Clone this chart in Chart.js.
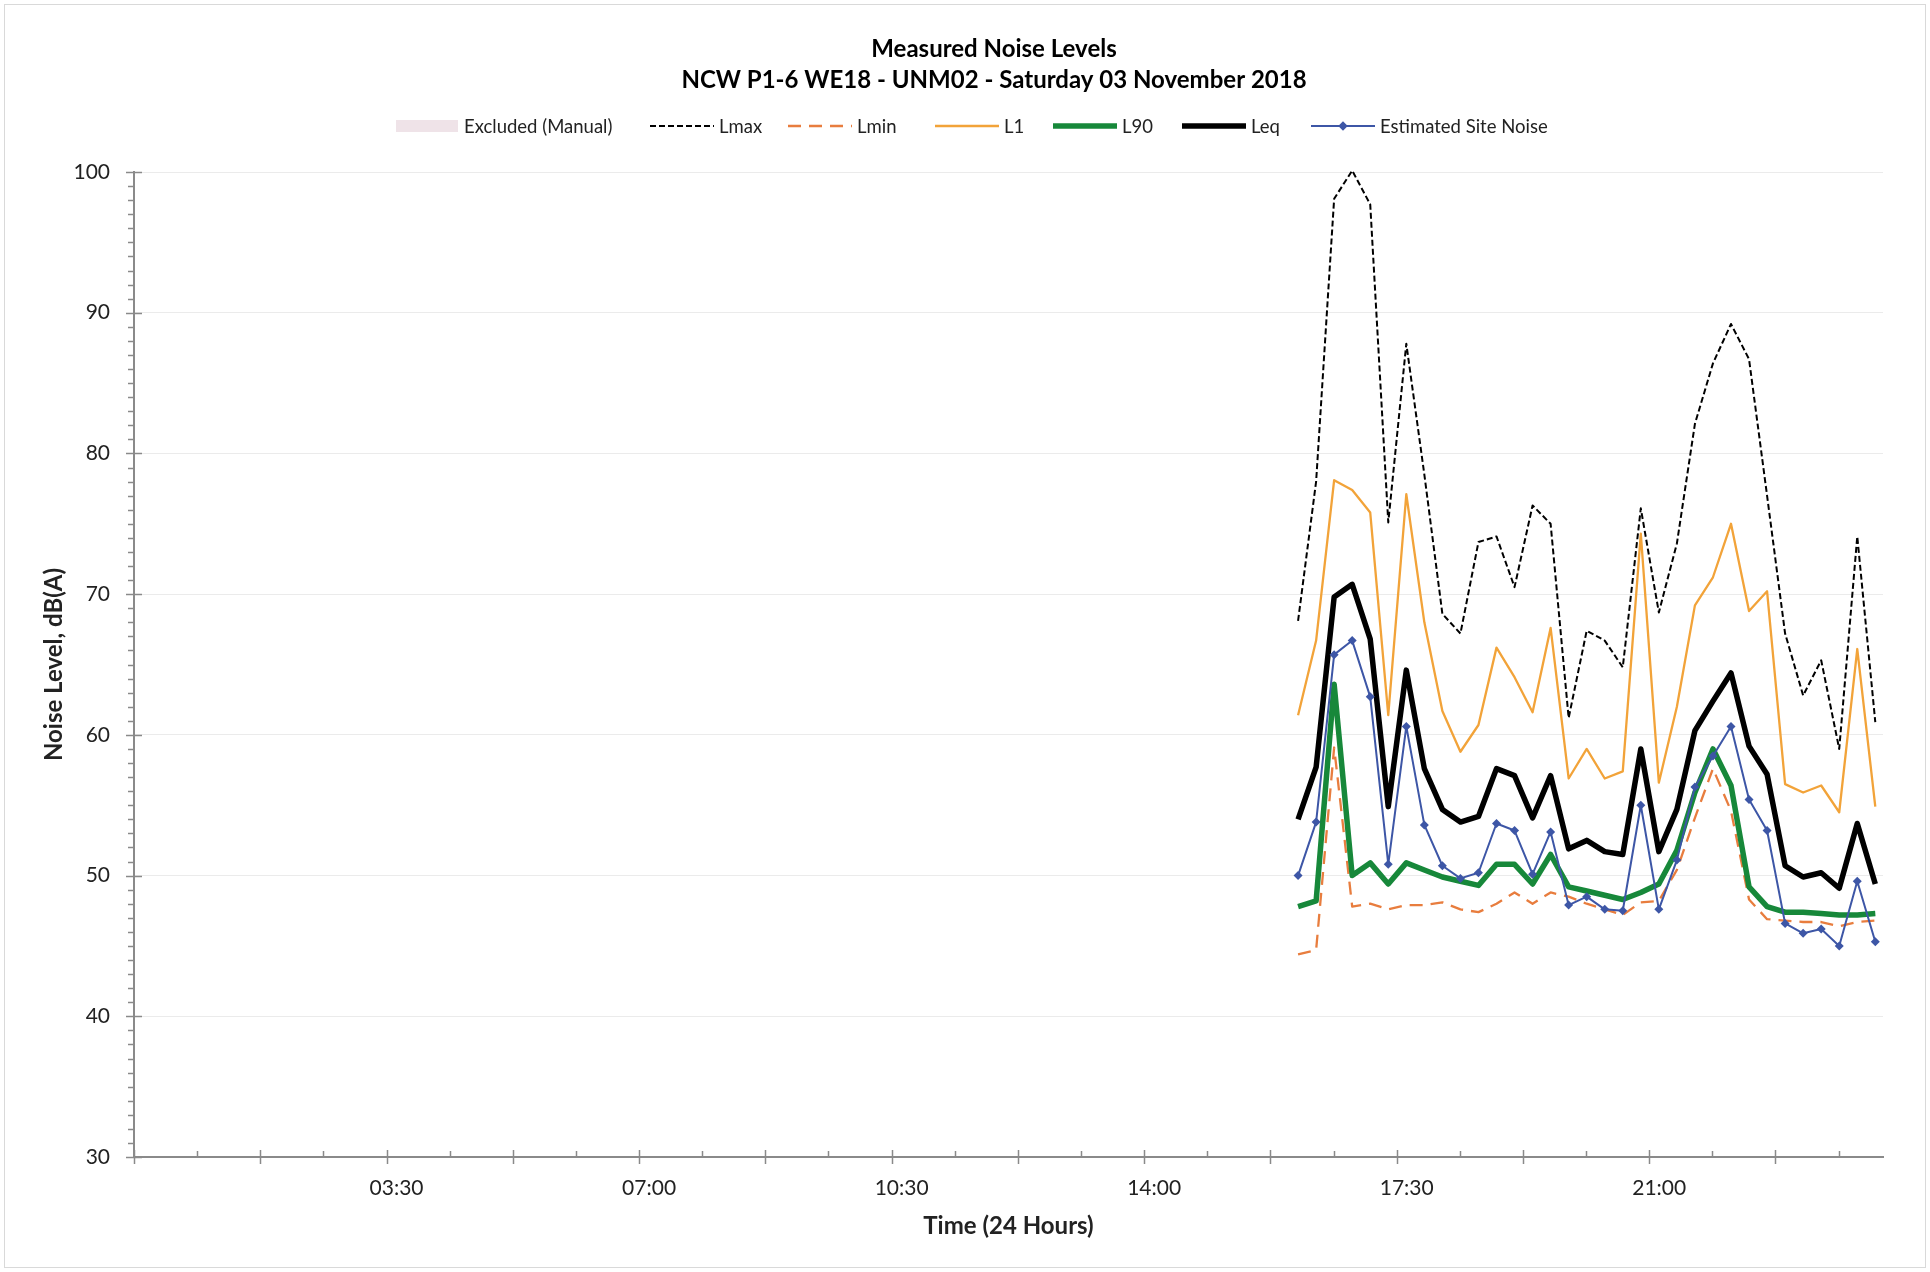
<!DOCTYPE html>
<html>
<head>
<meta charset="utf-8">
<script src="https://cdn.jsdelivr.net/npm/chart.js@4.4.0/dist/chart.umd.min.js"></script>
<style>
html,body{margin:0;padding:0;background:#fff;}
#wrap{width:1930px;height:1272px;position:relative;}
canvas{display:block;}
</style>
</head>
<body>
<div id="wrap"><canvas id="c" width="1930" height="1272"></canvas></div>
<script>
// ---------------- DATA ----------------
const titleLines = ["Measured Noise Levels", "NCW P1-6 WE18 - UNM02 - Saturday 03 November 2018"];
const xAxisTitle = "Time (24 Hours)";
const yAxisTitle = "Noise Level, dB(A)";
const xTickLabels = ["03:30", "07:00", "10:30", "14:00", "17:30", "21:00"];
const yTickValues = [30, 40, 50, 60, 70, 80, 90, 100];

const timeLabels = ["16:08","16:23","16:38","16:53","17:08","17:23","17:38","17:53",
  "18:08","18:23","18:38","18:53","19:08","19:23","19:38","19:53",
  "20:08","20:23","20:38","20:53","21:08","21:23","21:38","21:53",
  "22:08","22:23","22:38","22:53","23:08","23:23","23:38","23:53","00:08"];

const lmax = [68.1,78.0,98.1,100.1,97.7,75.1,87.8,78.5,68.6,67.2,73.7,74.1,70.5,76.3,75.0,61.2,
  67.4,66.7,64.8,76.1,68.7,73.6,82.1,86.4,89.2,86.7,77.0,67.2,62.8,65.3,59.0,74.1,60.9];
const lmin = [44.4,44.7,59.1,47.8,48.0,47.6,47.9,47.9,48.1,47.6,47.4,48.0,48.8,48.0,48.8,48.5,
  48.0,47.6,47.2,48.1,48.2,50.4,54.1,57.6,54.6,48.3,46.9,46.8,46.7,46.7,46.4,46.7,46.8];
const l1 = [61.4,66.7,78.1,77.4,75.8,61.4,77.1,68.0,61.7,58.8,60.7,66.2,64.1,61.6,67.6,56.9,
  59.0,56.9,57.4,74.3,56.6,62.0,69.2,71.2,75.0,68.8,70.2,56.5,55.9,56.4,54.5,66.1,54.9];
const l90 = [47.8,48.2,63.6,50.0,50.9,49.4,50.9,50.4,49.9,49.6,49.3,50.8,50.8,49.4,51.5,49.2,
  48.9,48.6,48.3,48.8,49.4,51.8,55.9,59.0,56.4,49.2,47.8,47.4,47.4,47.3,47.2,47.2,47.3];
const leq = [54.0,57.7,69.8,70.7,66.8,54.9,64.6,57.6,54.7,53.8,54.2,57.6,57.1,54.1,57.1,51.9,
  52.5,51.7,51.5,59.0,51.7,54.7,60.3,62.4,64.4,59.2,57.2,50.7,49.9,50.2,49.1,53.7,49.4];
const siteNoise = [50.0,53.8,65.7,66.7,62.7,50.8,60.6,53.6,50.7,49.8,50.2,53.7,53.2,50.1,53.1,47.9,
  48.5,47.6,47.5,55.0,47.6,51.1,56.3,58.5,60.6,55.4,53.2,46.6,45.9,46.2,45.0,49.6,45.3];

// ---------------- HELPERS ----------------
const toMin = s => { const p = s.split(':').map(Number); return p[0] * 60 + p[1]; };
let prevMin = -1, dayOffset = 0;
const xMinutes = timeLabels.map(s => {
  let v = toMin(s) + dayOffset;
  if (v < prevMin) { dayOffset += 1440; v += 1440; }
  prevMin = v; return v;
});
const pts = arr => arr.map((y, i) => ({ x: xMinutes[i], y: y }));
const fmtTime = m => { const h = Math.floor(m / 60), mm = Math.round(m % 60); return String(h).padStart(2,'0') + ':' + String(mm).padStart(2,'0'); };

const FONT = 'Lato, "Open Sans", sans-serif';
const TXT = '#222222';
const AXIS = '#8a8a8a';

// ---------------- PLUGIN: ticks, titles, legend ----------------
const decor = {
  id: 'decor',
  afterDraw(chart) {
    const ctx = chart.ctx, ca = chart.chartArea;
    const xs = chart.scales.x, ys = chart.scales.y;
    ctx.save();
    // outer border
    ctx.strokeStyle = '#d9d9d9'; ctx.lineWidth = 1;
    ctx.strokeRect(4.5, 4.5, 1921, 1263);
    // y ticks
    ctx.strokeStyle = AXIS; ctx.lineWidth = 1.5;
    ctx.beginPath();
    for (let v = ys.min; v <= ys.max + 1e-6; v += 1) {
      const py = Math.round(ys.getPixelForValue(v)) + 0.5;
      if (Math.abs(v % 10) < 1e-6) { ctx.moveTo(ca.left - 8, py); ctx.lineTo(ca.left + 8, py); }
      else { ctx.moveTo(ca.left - 6, py); ctx.lineTo(ca.left, py); }
    }
    // x ticks (major every 105 min, minor every 52.5)
    for (let m = 0; m <= xs.max + 1e-6; m += 52.5) {
      const px = Math.round(xs.getPixelForValue(m)) + 0.5;
      if (Math.abs(m % 105) < 1e-6) { ctx.moveTo(px, ca.bottom - 7); ctx.lineTo(px, ca.bottom + 7); }
      else { ctx.moveTo(px, ca.bottom - 6); ctx.lineTo(px, ca.bottom); }
    }
    ctx.stroke();

    // titles
    ctx.fillStyle = '#000';
    ctx.textAlign = 'center'; ctx.textBaseline = 'middle';
    ctx.font = 'bold 24px ' + FONT;
    ctx.fillText(titleLines[0], 994, 49);
    ctx.fillText(titleLines[1], 994, 80);

    // axis titles
    ctx.font = 'bold 24px ' + FONT;
    ctx.fillStyle = TXT;
    ctx.fillText(xAxisTitle, (ca.left + ca.right) / 2, 1226);
    ctx.save();
    ctx.translate(54, (ca.top + ca.bottom) / 2);
    ctx.rotate(-Math.PI / 2);
    ctx.fillText(yAxisTitle, 0, 0);
    ctx.restore();

    // legend
    const legendY = 126;
    const starts = [396, 650, 788, 935, 1053, 1182, 1311];
    ctx.font = '18.5px ' + FONT;
    ctx.textAlign = 'left';
    chart.data.datasets.forEach((ds, i) => {
      const lx = starts[i];
      if (ds.legendBox) {
        ctx.fillStyle = ds.backgroundColor;
        ctx.fillRect(lx, legendY - 6, 62, 12);
      } else {
        ctx.save();
        ctx.strokeStyle = ds.borderColor;
        ctx.lineWidth = ds.borderWidth;
        ctx.setLineDash(ds.borderDash || []);
        ctx.lineCap = 'butt';
        ctx.beginPath(); ctx.moveTo(lx, legendY); ctx.lineTo(lx + 64, legendY); ctx.stroke();
        ctx.restore();
        if (ds.pointRadius > 0) {
          ctx.save();
          ctx.fillStyle = ds.pointBackgroundColor;
          ctx.translate(lx + 32, legendY); ctx.rotate(Math.PI / 4);
          const r = ds.pointRadius * 0.75;
          ctx.fillRect(-r, -r, 2 * r, 2 * r);
          ctx.restore();
        }
      }
      ctx.fillStyle = TXT;
      ctx.fillText(ds.label, lx + (ds.legendBox ? 68 : 69), legendY + 1);
    });
    ctx.restore();
  }
};

// ---------------- CHART ----------------
function build() {
  const ctx = document.getElementById('c').getContext('2d');
  const lineBase = { pointRadius: 0, tension: 0, fill: false, clip: false, borderJoinStyle: 'round' };
  new Chart(ctx, {
    type: 'line',
    data: {
      datasets: [
        { label: 'Excluded (Manual)', data: [], legendBox: true, backgroundColor: '#efe3e8', borderColor: '#efe3e8', borderWidth: 0, pointRadius: 0, order: 7 },
        Object.assign({}, lineBase, { label: 'Lmax', data: pts(lmax), borderColor: '#000000', borderWidth: 2, borderDash: [6, 3], order: 6 }),
        Object.assign({}, lineBase, { label: 'Lmin', data: pts(lmin), borderColor: '#e87d3e', borderWidth: 2.3, borderDash: [13, 8], order: 5 }),
        Object.assign({}, lineBase, { label: 'L1', data: pts(l1), borderColor: '#f2a339', borderWidth: 2.3, order: 4 }),
        Object.assign({}, lineBase, { label: 'L90', data: pts(l90), borderColor: '#17883a', borderWidth: 5.5, order: 3 }),
        Object.assign({}, lineBase, { label: 'Leq', data: pts(leq), borderColor: '#000000', borderWidth: 5.5, order: 2 }),
        Object.assign({}, lineBase, { label: 'Estimated Site Noise', data: pts(siteNoise), borderColor: '#3d56a6', borderWidth: 2,
          pointRadius: 4.5, pointStyle: 'rectRot', pointBackgroundColor: '#3d56a6', pointBorderColor: '#3d56a6', pointBorderWidth: 0, order: 1 })
      ]
    },
    options: {
      responsive: false,
      devicePixelRatio: 1,
      animation: false,
      events: [],
      layout: { padding: { left: 34, right: 47, top: 172, bottom: 35 } },
      plugins: { legend: { display: false }, title: { display: false }, tooltip: { enabled: false } },
      scales: {
        x: {
          type: 'linear',
          min: 0,
          max: 1454.4,
          afterFit(s) { s.height = 80; },
          afterBuildTicks(s) { s.ticks = xTickLabels.map(t => ({ value: toMin(t) })); },
          ticks: {
            autoSkip: false, maxRotation: 0, padding: 19, labelOffset: 10,
            color: TXT, font: { family: FONT, size: 21 },
            callback: v => fmtTime(v)
          },
          grid: { display: false, drawTicks: false },
          border: { display: true, color: AXIS, width: 2 }
        },
        y: {
          min: 30,
          max: 100,
          afterFit(s) { s.width = 100; },
          afterBuildTicks(s) { s.ticks = yTickValues.map(v => ({ value: v })); },
          ticks: { padding: 24, color: TXT, font: { family: FONT, size: 21 } },
          grid: { color: '#ebebeb', lineWidth: 1, drawTicks: false },
          border: { display: true, color: AXIS, width: 2 }
        }
      }
    },
    plugins: [decor]
  });
}
const fontLoads = document.fonts ? Promise.all([
  document.fonts.load('21px Lato'), document.fonts.load('bold 24px Lato')
]).catch(() => {}) : Promise.resolve();
fontLoads.then(build, build);
</script>
</body>
</html>
